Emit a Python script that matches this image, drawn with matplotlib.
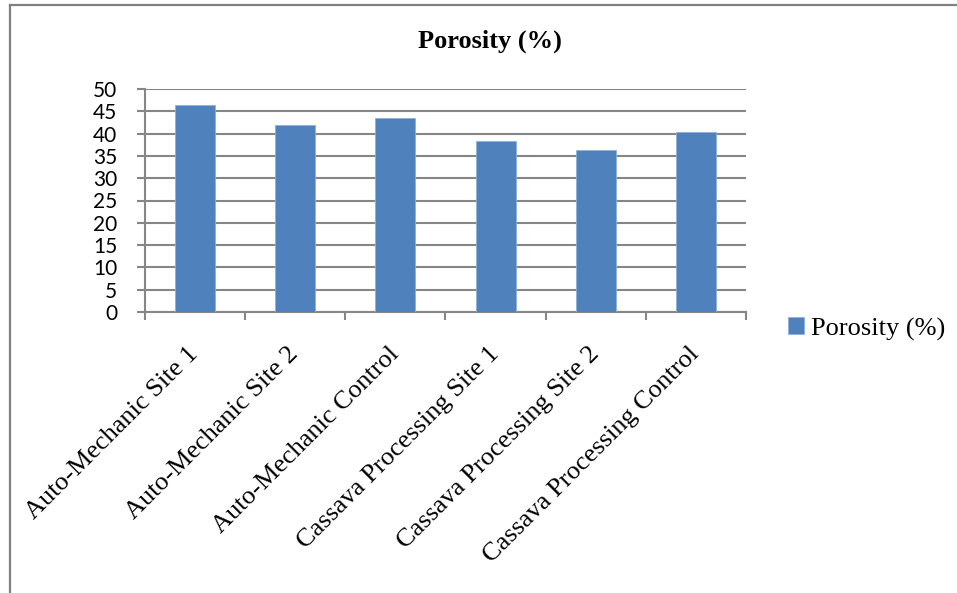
import matplotlib
matplotlib.use("Agg")
import matplotlib.pyplot as plt
from matplotlib.lines import Line2D
import numpy as np

categories = ["Auto-Mechanic Site 1", "Auto-Mechanic Site 2", "Auto-Mechanic Control",
              "Cassava Processing Site 1", "Cassava Processing Site 2", "Cassava Processing Control"]
porosity = [46.4, 41.9, 43.6, 38.4, 36.4, 40.3]
yticks = [0, 5, 10, 15, 20, 25, 30, 35, 40, 45, 50]
series_name = "Porosity (%)"
title = "Porosity (%)"

W, H = 957, 593
fig = plt.figure(figsize=(W / 100, H / 100), dpi=100)
ax = fig.add_axes([145 / W, 1 - 312 / H, (746 - 145) / W, (312 - 89) / H])

x = np.arange(len(categories))
bars = ax.bar(x, porosity, width=0.4, color="#4F81BD", edgecolor="#8FB0D9", linewidth=0.6,
              zorder=3, label=series_name)

ax.set_xlim(-0.5, len(categories) - 0.5)
ax.set_ylim(0, 50)
ax.set_yticks(yticks)
ax.set_yticklabels([str(v) for v in yticks], fontfamily="Lato", fontsize=15)
ax.yaxis.grid(True, color="#868686", linewidth=1.5, zorder=0)
ax.tick_params(axis="y", length=6, width=1.5, color="#868686", pad=14, direction="out")

# category boundary ticks
ax.set_xticks(np.arange(len(categories) + 1) - 0.5, minor=False)
ax.set_xticklabels([])
ax.tick_params(axis="x", which="major", length=6, width=1.5, color="#868686", direction="out")
ax.set_xticks(x, minor=True)
ax.set_xticklabels(categories, minor=True, rotation=45, ha="right", va="center",
                   rotation_mode="anchor", fontfamily="Liberation Serif", fontsize=19)
ax.tick_params(axis="x", which="minor", length=0, pad=28)

for s in ["top", "right"]:
    ax.spines[s].set_visible(False)
ax.spines["left"].set_color("#868686")
ax.spines["left"].set_linewidth(1.5)
ax.spines["bottom"].set_color("#868686")
ax.spines["bottom"].set_linewidth(1.5)

fig.text(490 / W, 1 - 41 / H, title, ha="center", va="center",
         fontfamily="Liberation Serif", fontweight="bold", fontsize=19)

leg = fig.legend(handles=[bars], labels=[series_name], loc="center left",
                 bbox_to_anchor=(775 / W, 1 - 329 / H), frameon=False,
                 prop={"family": "Liberation Serif", "size": 19},
                 handlelength=0.6, handleheight=0.6, handletextpad=0.25, borderpad=0)

# outer frame (left and top edges visible)
fig.add_artist(Line2D([9.5 / W, 9.5 / W], [0, 1 - 5 / H], transform=fig.transFigure,
                      color="#808080", linewidth=1.6))
fig.add_artist(Line2D([9.5 / W, 1], [1 - 5 / H, 1 - 5 / H], transform=fig.transFigure,
                      color="#808080", linewidth=1.6))

fig.savefig("out.png", dpi=100, facecolor="white")
